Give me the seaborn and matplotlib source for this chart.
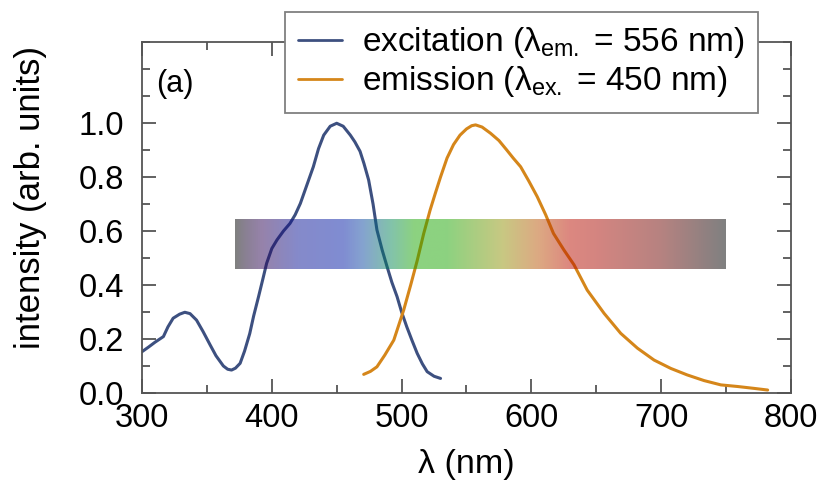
import numpy as np
import pandas as pd
import matplotlib
matplotlib.use("Agg")
import matplotlib.pyplot as plt
import seaborn as sns
from matplotlib.colors import LinearSegmentedColormap
from matplotlib.ticker import MultipleLocator

# ---- data ----
exc_wl = [300, 305, 310, 316.5, 320, 324, 329, 333, 337, 342, 347, 352.5, 357, 362.7, 366, 369, 372,
          375.6, 379, 383, 386, 389.8, 393, 396, 400, 404, 409, 414, 418, 422, 427, 432, 436, 440,
          445, 450, 455, 460.5, 464, 468, 471, 474.6, 478, 481, 485, 488.8, 492.5, 496.5, 500,
          504, 508, 512, 516, 519.7, 525, 530]
exc_int = [0.153, 0.170, 0.188, 0.209, 0.245, 0.277, 0.292, 0.299, 0.294, 0.270, 0.228, 0.178, 0.138,
           0.100, 0.088, 0.085, 0.092, 0.110, 0.155, 0.220, 0.285, 0.357, 0.420, 0.480, 0.535,
           0.567, 0.600, 0.628, 0.660, 0.702, 0.770, 0.838, 0.905, 0.955, 0.988, 0.999, 0.988,
           0.955, 0.930, 0.895, 0.850, 0.789, 0.700, 0.604, 0.530, 0.468, 0.410, 0.357, 0.300,
           0.245, 0.195, 0.147, 0.108, 0.079, 0.062, 0.054]

emi_wl = [470.8, 476, 481, 487, 494, 501.6, 507, 512, 517, 522, 526, 530, 535, 540, 545, 550, 554,
          557, 562, 568.5, 575, 581, 586, 591.7, 598, 604.5, 611, 617, 625, 632.8, 643, 656,
          668.8, 681.7, 694.5, 707.4, 720, 733, 746, 759, 771.7, 782]
emi_int = [0.069, 0.080, 0.097, 0.140, 0.196, 0.307, 0.400, 0.490, 0.590, 0.678, 0.740, 0.800, 0.870,
           0.920, 0.955, 0.978, 0.990, 0.993, 0.985, 0.962, 0.935, 0.900, 0.870, 0.838, 0.785,
           0.727, 0.660, 0.591, 0.530, 0.475, 0.381, 0.295, 0.221, 0.166, 0.122, 0.091, 0.067,
           0.046, 0.030, 0.024, 0.017, 0.011]

series_labels = ["excitation (λ$_{\\mathrm{em.}}$ = 556 nm)",
                 "emission (λ$_{\\mathrm{ex.}}$ = 450 nm)"]
series_colors = ["#3d5080", "#d5861a"]

# visible-spectrum bar (wavelength range, intensity range, colour stops)
bar_wl = (372, 750)
bar_int = (0.46, 0.645)
stop_wl = [372, 380, 392, 420, 455, 470, 492, 510, 535, 578, 605, 630, 650, 700, 750]
stop_rgb = [(0, 0, 0), (20, 0, 40), (45, 5, 85), (10, 20, 150), (0, 25, 165), (10, 70, 160),
            (5, 135, 85), (25, 165, 0), (25, 165, 0), (145, 145, 5), (185, 85, 5), (185, 15, 0),
            (170, 10, 0), (110, 5, 0), (0, 0, 0)]

# ---- figure ----
sns.set_theme(style="ticks")
plt.rcParams["font.family"] = ["Liberation Sans", "DejaVu Sans"]
plt.rcParams["mathtext.fontset"] = "custom"
plt.rcParams["mathtext.rm"] = "Liberation Sans"
plt.rcParams["mathtext.it"] = "Liberation Sans:italic"
plt.rcParams["text.color"] = "black"
plt.rcParams["axes.labelcolor"] = "black"
plt.rcParams["xtick.labelcolor"] = "black"
plt.rcParams["ytick.labelcolor"] = "black"

fig = plt.figure(figsize=(8.23, 4.82), dpi=100)
ax = fig.add_axes([142 / 823, 1 - 393 / 482, (791 - 142) / 823, (393 - 42) / 482])

df = pd.concat([
    pd.DataFrame({"wl": exc_wl, "I": exc_int, "s": series_labels[0]}),
    pd.DataFrame({"wl": emi_wl, "I": emi_int, "s": series_labels[1]}),
])
sns.lineplot(data=df, x="wl", y="I", hue="s", palette=series_colors, linewidth=2.2,
             sort=False, ax=ax, zorder=2)

# spectrum bar
lo, hi = stop_wl[0], stop_wl[-1]
cmap = LinearSegmentedColormap.from_list(
    "spec", [((w - lo) / (hi - lo), tuple(c / 255 for c in rgb)) for w, rgb in zip(stop_wl, stop_rgb)])
grad = np.linspace(0, 1, 512)[None, :]
ax.imshow(grad, cmap=cmap, aspect="auto", alpha=0.5, zorder=3, interpolation="bilinear",
          extent=[bar_wl[0], bar_wl[1], bar_int[0], bar_int[1]])

ax.set_xlim(300, 800)
ax.set_ylim(0, 1.3)
ax.xaxis.set_major_locator(MultipleLocator(100))
ax.xaxis.set_minor_locator(MultipleLocator(50))
ax.set_yticks([0, 0.2, 0.4, 0.6, 0.8, 1.0])
ax.set_yticklabels(["0.0", "0.2", "0.4", "0.6", "0.8", "1.0"])
ax.yaxis.set_minor_locator(MultipleLocator(0.1))
ax.tick_params(which="both", direction="in", top=True, right=True, color="#555555",
               labelsize=23.5, width=1.3)
ax.tick_params(axis="x", which="both", pad=7)
ax.tick_params(axis="y", which="both", pad=13)
ax.tick_params(which="major", length=10)
ax.tick_params(which="minor", length=6)
for sp in ax.spines.values():
    sp.set_color("#555555")
    sp.set_linewidth(1.3)

ax.set_xlabel("λ (nm)", fontsize=24.5, labelpad=11)
ax.set_ylabel("intensity (arb. units)", fontsize=25)
ax.yaxis.set_label_coords(-0.146, 0.556)
ax.text(311, 1.145, "(a)", fontsize=22, ha="left", va="center")

leg = ax.legend(loc="upper left", bbox_to_anchor=(285 / 823, 1 - 12 / 482),
                bbox_transform=fig.transFigure, borderaxespad=0, fontsize=24,
                frameon=True, fancybox=False, framealpha=1, edgecolor="#808080",
                handlelength=1.3, handletextpad=0.6, labelspacing=0.12, borderpad=0.4)
leg.get_frame().set_linewidth(1.3)
leg.set_zorder(10)
for h in leg.get_lines():
    h.set_linewidth(2.0)

fig.savefig("out.png", dpi=100)
